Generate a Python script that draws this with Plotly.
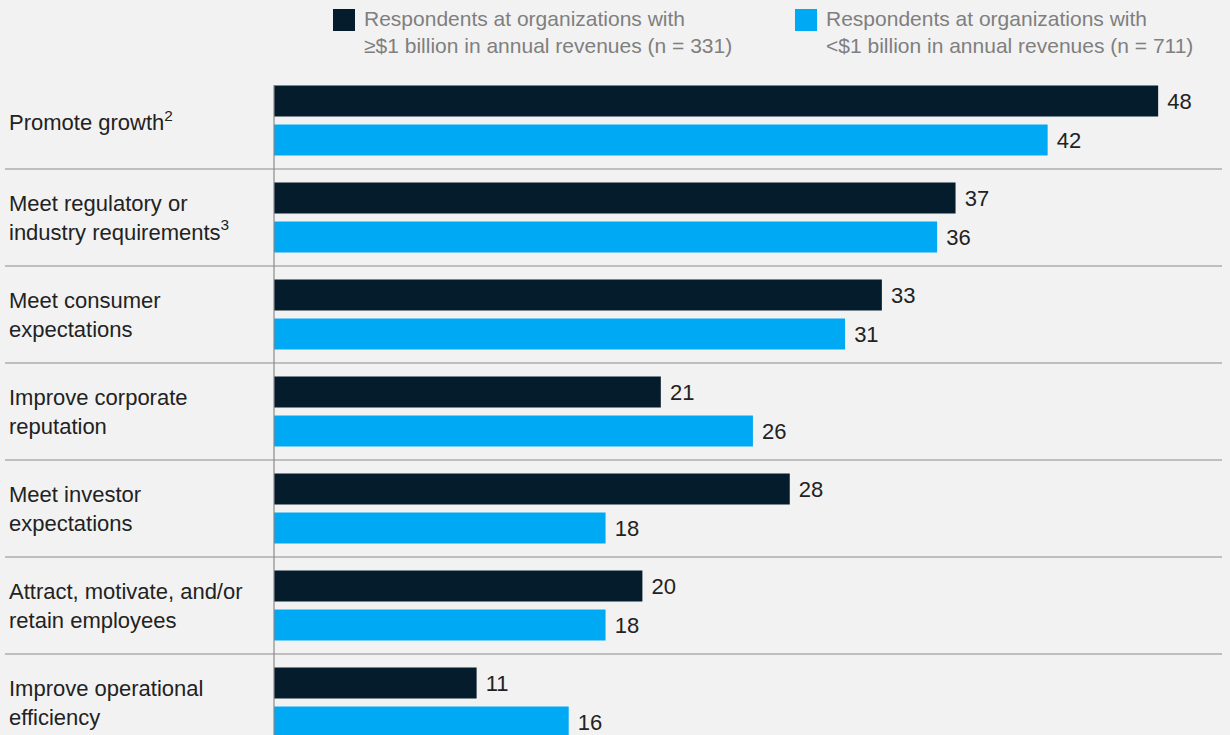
import plotly.graph_objects as go

categories = [
    "Promote growth<sup>2</sup>",
    "Meet regulatory or<br>industry requirements<sup>3</sup>",
    "Meet consumer<br>expectations",
    "Improve corporate<br>reputation",
    "Meet investor<br>expectations",
    "Attract, motivate, and/or<br>retain employees",
    "Improve operational<br>efficiency",
]
large_orgs = [48, 37, 33, 21, 28, 20, 11]
small_orgs = [42, 36, 31, 26, 18, 18, 16]
series_names = [
    "Respondents at organizations with<br>≥$1 billion in annual revenues (n = 331)",
    "Respondents at organizations with<br><$1 billion in annual revenues (n = 711)",
]
colors = ["#051c2c", "#00a9f4"]

W, H = 1230, 735
L, T = 274, 72
PW, PH = W - L, H - T
FONT = "Liberation Sans, Arial, sans-serif"

def px(p):
    return (p - L) / PW

def py(p):
    return (H - p) / PH

keys = [f"c{i}" for i in range(len(categories))]

fig = go.Figure()
for vals, name, col in zip([large_orgs, small_orgs], series_names, colors):
    fig.add_trace(go.Bar(
        y=keys, x=vals, orientation="h", name=name,
        marker=dict(color=col, line=dict(width=0)),
        text=[f" {v}" for v in vals], textposition="outside",
        textfont=dict(size=22, color="#222222", family=FONT),
        cliponaxis=False, showlegend=False, hoverinfo="skip",
    ))

shapes = []
for i in range(len(categories) - 1):
    shapes.append(dict(type="line", xref="paper", yref="y",
                       x0=px(5), x1=px(1222), y0=i + 0.5, y1=i + 0.5,
                       line=dict(color="#8a8a8a", width=1.2)))
shapes.append(dict(type="line", xref="paper", yref="paper",
                   x0=0, x1=0, y0=0, y1=py(85),
                   line=dict(color="#8a8a8a", width=1.2)))
for x0, col in [(333, colors[0]), (795, colors[1])]:
    shapes.append(dict(type="rect", xref="paper", yref="paper",
                       x0=px(x0), x1=px(x0 + 22), y0=py(31), y1=py(9),
                       fillcolor=col, line=dict(width=0)))

annotations = []
for k, c in zip(keys, categories):
    annotations.append(dict(xref="paper", yref="y", x=px(7), y=k,
                            text=c, showarrow=False, xanchor="left",
                            yanchor="middle", align="left",
                            font=dict(size=22, color="#222222", family=FONT)))
for x0, name in [(362, series_names[0]), (824, series_names[1])]:
    annotations.append(dict(xref="paper", yref="paper", x=px(x0), y=py(5.5),
                            text=name, showarrow=False, xanchor="left",
                            yanchor="top", align="left",
                            font=dict(size=21, color="#7f7f7f", family=FONT)))

fig.update_layout(
    width=W, height=H,
    margin=dict(l=L, r=0, t=T, b=0, pad=0),
    paper_bgcolor="#f2f2f2", plot_bgcolor="#f2f2f2",
    barmode="group", bargap=0.196, bargroupgap=0.205,
    xaxis=dict(range=[0, PW / 18.42], visible=False, fixedrange=True),
    yaxis=dict(categoryorder="array", categoryarray=keys,
               range=[-0.5 + PH / 97, -0.5], showticklabels=False,
               showgrid=False, zeroline=False, fixedrange=True),
    shapes=shapes, annotations=annotations,
    font=dict(family=FONT),
    hovermode=False,
)
fig.write_html("out.html", config={"displayModeBar": False},
               post_script="document.body.style.margin='0';document.body.style.background='#f2f2f2';")
